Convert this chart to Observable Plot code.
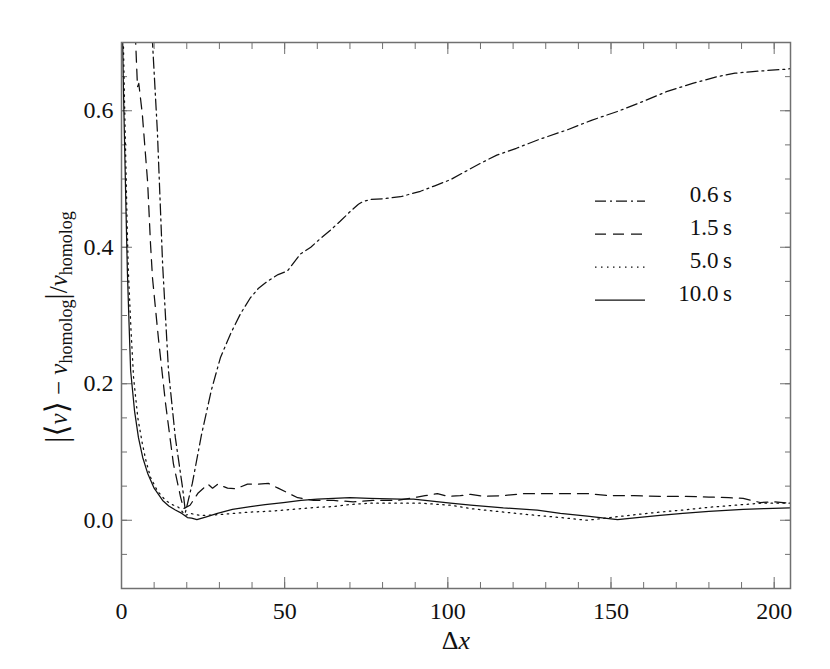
<!DOCTYPE html>
<html>
<head>
<meta charset="utf-8">
<script src="https://cdn.jsdelivr.net/npm/d3@7"></script>
<script src="https://cdn.jsdelivr.net/npm/@observablehq/plot@0.6"></script>
<style>
  html, body { margin: 0; padding: 0; background: #fff; }
  #chart { width: 830px; height: 669px; }
  #chart svg, #chart svg text { font-family: "Liberation Serif", "Times New Roman", Times, Tinos, "DejaVu Serif", "Noto Serif", serif !important; }
</style>
</head>
<body>
<div id="chart"></div>
<script>
// ---- data ----
const seriesNames = ["0.6 s", "1.5 s", "5.0 s", "10.0 s"];

const x06 = [9.2, 9.5, 11, 12.6, 14.4, 16.5, 18.7, 19.6, 21.7, 24.5, 27.5, 30.3, 33.4, 36.4, 39.5, 42, 44.7, 48, 50.8, 54.8, 58, 61, 64, 67, 70, 72.6, 74, 76.3, 80, 85.5, 91.6, 96, 100.8, 105, 110, 115, 121, 128, 136.6, 144, 152, 160, 167, 175, 182.5, 188, 192.6, 198, 204, 205];
const y06 = [0.74, 0.70, 0.569, 0.375, 0.219, 0.121, 0.048, 0.012, 0.054, 0.125, 0.19, 0.238, 0.273, 0.302, 0.326, 0.34, 0.35, 0.36, 0.365, 0.39, 0.40, 0.413, 0.425, 0.438, 0.452, 0.463, 0.467, 0.47, 0.471, 0.474, 0.482, 0.49, 0.499, 0.51, 0.523, 0.535, 0.545, 0.558, 0.572, 0.586, 0.599, 0.614, 0.628, 0.64, 0.65, 0.655, 0.657, 0.659, 0.661, 0.662];

const x15 = [4.0, 4.9, 5.3, 6.4, 8.0, 8.9, 9.5, 11.3, 13.5, 15.9, 18.1, 19.0, 21.0, 23.5, 26.5, 27.9, 29.5, 32.5, 35, 38.6, 41.6, 45, 48, 51, 54, 58.8, 65, 71, 77, 84.5, 90.6, 93, 96.8, 100, 103.8, 107, 110.9, 117, 123, 129, 137.5, 142.7, 149.8, 157, 165, 172, 180, 186, 190.5, 195.7, 200, 205];
const y15 = [0.74, 0.635, 0.640, 0.594, 0.496, 0.404, 0.355, 0.267, 0.171, 0.083, 0.034, 0.017, 0.022, 0.040, 0.053, 0.047, 0.053, 0.047, 0.046, 0.053, 0.053, 0.054, 0.047, 0.040, 0.033, 0.029, 0.029, 0.027, 0.029, 0.029, 0.034, 0.036, 0.039, 0.035, 0.036, 0.038, 0.035, 0.036, 0.039, 0.039, 0.039, 0.039, 0.036, 0.036, 0.035, 0.035, 0.034, 0.033, 0.032, 0.026, 0.027, 0.025];

const x50 = [0.5, 0.9, 1.3, 1.7, 2.1, 2.9, 3.7, 5.0, 6.4, 7.6, 8.9, 11, 13.5, 15.5, 17.5, 19.6, 21, 24.2, 29, 34.3, 39.5, 44.7, 50, 54.8, 60, 65, 70, 76, 85.5, 91.6, 100.8, 107, 117, 127.4, 134.5, 142.7, 149.8, 157, 165, 172, 180, 188, 195.7, 205];
const y50 = [0.72, 0.62, 0.53, 0.44, 0.365, 0.28, 0.209, 0.15, 0.112, 0.085, 0.063, 0.043, 0.029, 0.023, 0.019, 0.007, 0.010, 0.007, 0.008, 0.010, 0.012, 0.013, 0.015, 0.017, 0.019, 0.020, 0.023, 0.025, 0.025, 0.025, 0.022, 0.017, 0.012, 0.007, 0.004, 0.000, 0.004, 0.008, 0.012, 0.015, 0.019, 0.022, 0.025, 0.025];

const x100 = [0.3, 0.6, 1.0, 1.4, 1.8, 2.3, 2.8, 4.0, 5.2, 6.5, 8.0, 10, 12.6, 14.5, 16.5, 18.5, 20.2, 21.5, 23.1, 26, 29.4, 34, 39.5, 44, 49.6, 55, 60, 65, 70, 76, 85.5, 89.5, 100.8, 107, 117, 127.4, 134.5, 142.7, 152, 158, 165, 172, 180, 190.5, 197, 205];
const y100 = [0.72, 0.63, 0.54, 0.45, 0.365, 0.29, 0.219, 0.16, 0.121, 0.092, 0.069, 0.047, 0.029, 0.021, 0.015, 0.010, 0.004, 0.003, 0.001, 0.005, 0.010, 0.016, 0.020, 0.023, 0.026, 0.029, 0.031, 0.032, 0.033, 0.032, 0.031, 0.031, 0.025, 0.022, 0.018, 0.015, 0.010, 0.006, 0.001, 0.004, 0.007, 0.010, 0.013, 0.016, 0.017, 0.018];

const xMajor = [0, 50, 100, 150, 200];
const xMinor = d3.range(0, 206, 10);
const yMajor = [0.0, 0.2, 0.4, 0.6];
const yMinor = d3.range(-0.1, 0.701, 0.05).map(v => +v.toFixed(2));

// ---- build table ----
const seriesXY = [[x06, y06], [x15, y15], [x50, y50], [x100, y100]];
const rows = seriesXY.flatMap(([xs, ys], k) => xs.map((x, i) => ({series: seriesNames[k], x, y: ys[i]})));
const dashes = {"0.6 s": "11,4,2,4", "1.5 s": "11,7", "5.0 s": "1.5,4.5", "10.0 s": null};

const axisColor = "#707070";
const font = "Liberation Serif, Times New Roman, Times, serif";

const lineMarks = seriesNames.map(name =>
  Plot.line(rows.filter(d => d.series === name), {
    x: "x", y: "y", stroke: "#111", strokeWidth: 1.25,
    strokeDasharray: dashes[name], clip: true
  })
);

const plot = Plot.plot({
  width: 830, height: 669,
  marginLeft: 121, marginRight: 40, marginTop: 42, marginBottom: 81,
  x: {domain: [0, 205]},
  y: {domain: [-0.1, 0.7]},
  style: {fontFamily: font, fontSize: "24px", background: "#fff", color: "#111"},
  marks: [
    // minor ticks
    Plot.axisX({anchor: "bottom", ticks: xMinor, tickSize: -6, tickFormat: () => "", label: null, stroke: axisColor}),
    Plot.axisX({anchor: "top", ticks: xMinor, tickSize: -6, tickFormat: () => "", label: null, stroke: axisColor}),
    Plot.axisY({anchor: "left", ticks: yMinor, tickSize: -6, tickFormat: () => "", label: null, stroke: axisColor}),
    Plot.axisY({anchor: "right", ticks: yMinor, tickSize: -6, tickFormat: () => "", label: null, stroke: axisColor}),
    // major ticks
    Plot.axisX({anchor: "bottom", ticks: xMajor, tickSize: -11, tickPadding: 24, tickFormat: d => String(d), label: null, stroke: axisColor, fill: "#111"}),
    Plot.axisX({anchor: "top", ticks: xMajor, tickSize: -11, tickFormat: () => "", label: null, stroke: axisColor}),
    Plot.axisY({anchor: "left", ticks: yMajor, tickSize: -11, tickPadding: 19, tickFormat: d3.format(".1f"), label: null, stroke: axisColor, fill: "#111"}),
    Plot.axisY({anchor: "right", ticks: yMajor, tickSize: -11, tickFormat: () => "", label: null, stroke: axisColor}),
    ...lineMarks,
    Plot.frame({stroke: axisColor, strokeWidth: 1.5})
  ]
});

document.getElementById("chart").appendChild(plot);

// ---- legend, axis titles (text) ----
const svg = d3.select(plot);
const leg = svg.append("g").attr("font-size", 23).attr("fill", "#111");
const legRowY = [201, 234, 267, 300];
seriesNames.forEach((name, i) => {
  leg.append("line")
    .attr("x1", 595).attr("x2", 645)
    .attr("y1", legRowY[i]).attr("y2", legRowY[i])
    .attr("stroke", "#111").attr("stroke-width", 1.25)
    .attr("stroke-dasharray", dashes[name]);
  leg.append("text")
    .attr("x", 732).attr("y", legRowY[i] + 1)
    .attr("text-anchor", "end")
    .text(name.replace(" ", "\u2009"));
});

// x-axis title
const xt = svg.append("text")
  .attr("x", 456).attr("y", 649)
  .attr("text-anchor", "middle")
  .attr("font-size", 26).attr("fill", "#111");
xt.append("tspan").text("Δ");
xt.append("tspan").attr("font-style", "italic").text("x");

// y-axis title
const yt = svg.append("text")
  .attr("transform", "translate(67,327) rotate(-90)")
  .attr("text-anchor", "middle")
  .attr("font-size", 25).attr("fill", "#111");
yt.append("tspan").attr("font-size", 31).text("|⟨");
yt.append("tspan").attr("font-style", "italic").text("v");
yt.append("tspan").attr("font-size", 31).text("⟩");
yt.append("tspan").text(" − ");
yt.append("tspan").attr("font-style", "italic").text("v");
yt.append("tspan").attr("font-size", 18).attr("dy", 5).text("homolog");
yt.append("tspan").attr("font-size", 31).attr("dy", -5).text("|");
yt.append("tspan").text("/");
yt.append("tspan").attr("font-style", "italic").text("v");
yt.append("tspan").attr("font-size", 18).attr("dy", 5).text("homolog");
</script>
</body>
</html>
